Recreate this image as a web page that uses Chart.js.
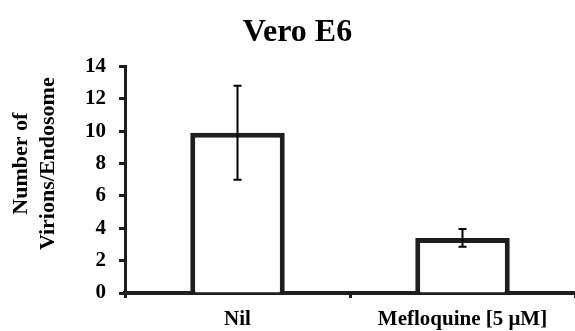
<!DOCTYPE html>
<html>
<head>
<meta charset="utf-8">
<script src="https://cdn.jsdelivr.net/npm/chart.js@4/dist/chart.umd.min.js"></script>
<style>
  html, body { margin: 0; padding: 0; background: #fff; }
  #wrap { width: 575px; height: 331px; position: relative; }
</style>
</head>
<body>
<div id="wrap"><canvas id="c" width="575" height="331"></canvas></div>
<script>
const categories = ['Nil', 'Mefloquine [5 μM]'];
const meanValues = [9.9, 3.4];
const errorValues = [2.9, 0.55];
const yTickValues = [0, 2, 4, 6, 8, 10, 12, 14];
const chartTitle = 'Vero E6';
const yAxisTitle = ['Number of', 'Virions/Endosome'];

const INK = '#1e1e1e';
const SERIF = "'Liberation Serif', 'Times New Roman', serif";

const errorBarPlugin = {
  id: 'errorBars',
  afterDatasetsDraw(chart) {
    const ctx = chart.ctx;
    const yScale = chart.scales.y;
    const meta = chart.getDatasetMeta(0);
    ctx.save();
    ctx.strokeStyle = '#000';
    ctx.lineWidth = 2;
    meta.data.forEach((bar, i) => {
      const x = bar.x;
      const yHi = yScale.getPixelForValue(meanValues[i] + errorValues[i]);
      const yLo = yScale.getPixelForValue(meanValues[i] - errorValues[i]);
      const cap = 4;
      ctx.beginPath();
      ctx.moveTo(x, yHi); ctx.lineTo(x, yLo);
      ctx.moveTo(x - cap, yHi); ctx.lineTo(x + cap, yHi);
      ctx.moveTo(x - cap, yLo); ctx.lineTo(x + cap, yLo);
      ctx.stroke();
    });
    ctx.restore();
  }
};

const yTitlePlugin = {
  id: 'yTitle',
  afterDraw(chart) {
    const ctx = chart.ctx;
    const area = chart.chartArea;
    const cy = (area.top + area.bottom) / 2 - 16;
    ctx.save();
    ctx.fillStyle = '#000';
    ctx.font = 'bold 22px ' + SERIF;
    ctx.textAlign = 'center';
    ctx.textBaseline = 'middle';
    ctx.translate(0, cy);
    ctx.rotate(-Math.PI / 2);
    ctx.fillText(yAxisTitle[0], 0, 21);
    ctx.fillText(yAxisTitle[1], 0, 48);
    ctx.restore();
  }
};

new Chart(document.getElementById('c'), {
  type: 'bar',
  data: {
    labels: categories,
    datasets: [{
      data: meanValues,
      backgroundColor: '#ffffff',
      borderColor: INK,
      borderWidth: 5,
      borderSkipped: 'bottom',
      categoryPercentage: 1.0,
      barPercentage: 0.42
    }]
  },
  options: {
    responsive: false,
    animation: false,
    devicePixelRatio: 1,
    layout: { padding: { left: 20, right: 0, top: 4, bottom: 0 } },
    plugins: {
      legend: { display: false },
      tooltip: { enabled: false },
      title: {
        display: true,
        text: chartTitle,
        color: '#000',
        font: { family: SERIF, size: 32, weight: 'bold' },
        padding: { top: 10, bottom: 14 }
      }
    },
    scales: {
      x: {
        grid: {
          offset: true,
          drawOnChartArea: false,
          drawTicks: true,
          tickLength: 5,
          tickWidth: 3,
          tickColor: INK
        },
        border: { display: true, color: INK, width: 4 },
        ticks: {
          color: '#000',
          padding: 9,
          font: { family: SERIF, size: 21, weight: 'bold' }
        },
        afterFit(scale) { scale.height = 38; }
      },
      y: {
        min: 0,
        max: 14,
        afterBuildTicks(scale) { scale.ticks = yTickValues.map(v => ({ value: v })); },
        grid: {
          drawOnChartArea: false,
          drawTicks: true,
          tickLength: 6,
          tickWidth: 3,
          tickColor: INK
        },
        border: { display: true, color: INK, width: 3 },
        ticks: {
          color: '#000',
          padding: 13,
          font: { family: SERIF, size: 21, weight: 'bold' }
        },
        afterFit(scale) { scale.width = 105; }
      }
    }
  },
  plugins: [errorBarPlugin, yTitlePlugin]
});
</script>
</body>
</html>
